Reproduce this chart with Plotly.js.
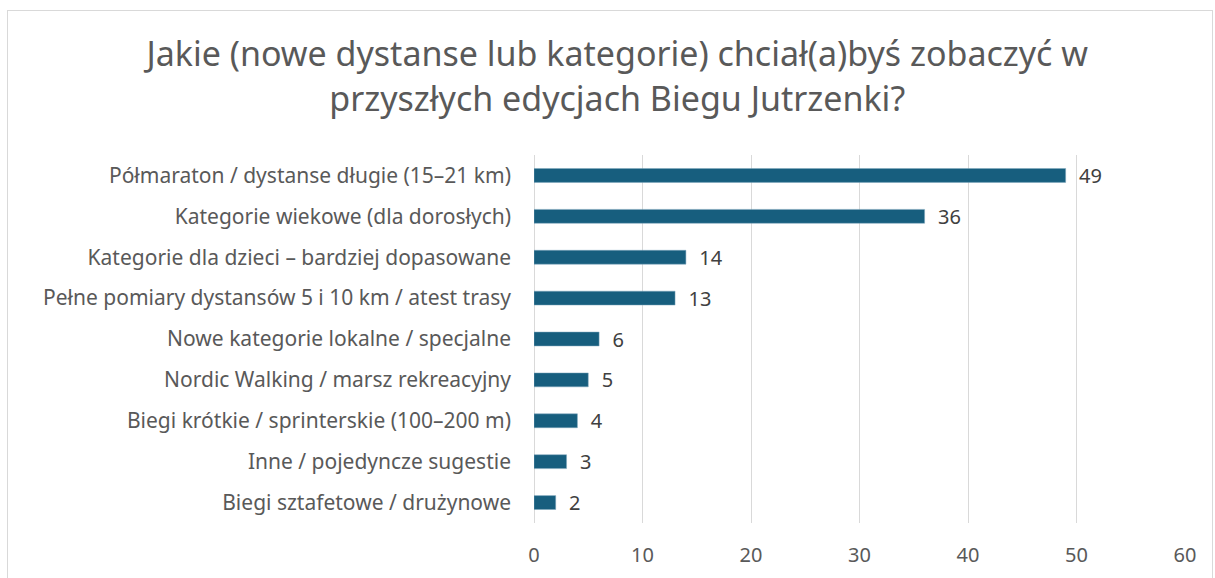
<!DOCTYPE html>
<html><head><meta charset="utf-8">
<script src="https://cdn.plot.ly/plotly-3.0.1.min.js"></script>
<style>
html,body{margin:0;padding:0;background:#fff;overflow:hidden;}
#frame{position:absolute;left:7px;top:10px;width:1206px;height:600px;border:1px solid #d9d9d9;box-sizing:border-box;}
#chart{position:absolute;left:0;top:0;width:1215px;height:578px;}
</style></head>
<body>
<div id="frame"></div>
<div id="chart"></div>
<script>
const categories = [
  "Półmaraton / dystanse długie (15–21 km)",
  "Kategorie wiekowe (dla dorosłych)",
  "Kategorie dla dzieci – bardziej dopasowane",
  "Pełne pomiary dystansów 5 i 10 km / atest trasy",
  "Nowe kategorie lokalne / specjalne",
  "Nordic Walking / marsz rekreacyjny",
  "Biegi krótkie / sprinterskie (100–200 m)",
  "Inne / pojedyncze sugestie",
  "Biegi sztafetowe / drużynowe"
];
const counts = [49, 36, 14, 13, 6, 5, 4, 3, 2];
const xTicks = [0, 10, 20, 30, 40, 50, 60];
const titleText = "Jakie (nowe dystanse lub kategorie) chciał(a)byś zobaczyć w<br>przyszłych edycjach Biegu Jutrzenki?";

const font = "Noto Sans, Open Sans, sans-serif";
const trace = {
  type: "bar",
  orientation: "h",
  y: categories,
  x: counts,
  text: counts.map(v => "\u00a0\u00a0" + v),
  textposition: "outside",
  constraintext: "none",
  cliponaxis: false,
  textfont: {family: font, size: 20, color: "#404040"},
  marker: {color: "#175E7E", line: {color: "#7fa7bd", width: 0.5}},
  hoverinfo: "none"
};
const layout = {
  width: 1215, height: 578,
  margin: {l: 534, r: 30, t: 154.5, b: 54.5},
  paper_bgcolor: "rgba(0,0,0,0)",
  plot_bgcolor: "rgba(0,0,0,0)",
  bargap: 0.66,
  showlegend: false,
  title: {
    text: titleText,
    font: {family: font, size: 34, color: "#595959"},
    x: 0.508, xanchor: "center",
    y: 0.885, yanchor: "top"
  },
  xaxis: {
    range: [0, 60],
    tickvals: xTicks,
    ticktext: xTicks.map(String),
    showgrid: true, gridcolor: "#d9d9d9", gridwidth: 1,
    zeroline: true, zerolinecolor: "#d9d9d9", zerolinewidth: 1,
    showline: false,
    ticks: "",
    tickfont: {family: font, size: 20, color: "#595959"},
    ticklabelstandoff: 18,
    fixedrange: true
  },
  yaxis: {
    autorange: "reversed",
    showgrid: false, zeroline: false, showline: false,
    ticks: "",
    tickfont: {family: font, size: 21, color: "#595959"},
    ticklabelstandoff: 22,
    fixedrange: true
  }
};
Plotly.newPlot("chart", [trace], layout, {displayModeBar: false, staticPlot: true});
</script>
</body></html>
